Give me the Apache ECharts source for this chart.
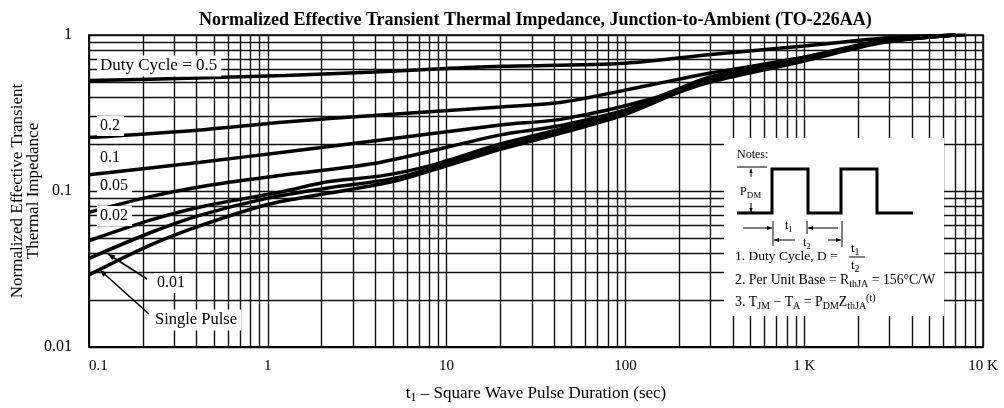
<!DOCTYPE html>
<html>
<head>
<meta charset="utf-8">
<script src="https://cdn.jsdelivr.net/npm/echarts@6/dist/echarts.min.js"></script>
<style>
  html, body { margin: 0; padding: 0; background: #fff; }
  #chart { width: 1004px; height: 408px; }
</style>
</head>
<body>
<div id="chart"></div>
<script>
// t1 (sec) vs normalized Z
const duty05 = [[0.1,0.51],[0.4,0.53],[1.25,0.55],[4,0.58],[10,0.61],[20,0.63],[100,0.66],[300,0.75],[1000,0.85],[3000,0.96],[8000,1.0]];
const duty02 = [[0.1,0.22],[0.42,0.246],[1.25,0.277],[4.3,0.307],[20,0.345],[45,0.372],[140,0.48],[300,0.57],[1000,0.72],[2700,0.9],[7000,1.0]];
const duty01 = [[0.1,0.127],[0.42,0.153],[1.25,0.178],[4.3,0.212],[20,0.265],[45,0.29],[140,0.39],[300,0.54],[1000,0.72],[2700,0.92],[7000,1.0]];
const duty005 = [[0.1,0.073],[0.22,0.092],[0.5,0.11],[1.25,0.127],[4.3,0.153],[20,0.229],[45,0.265],[140,0.37],[300,0.53],[1000,0.71],[2700,0.91],[7000,1.0]];
const duty002 = [[0.1,0.048],[0.22,0.065],[0.42,0.079],[1.2,0.099],[2.2,0.115],[4.3,0.125],[8,0.145],[20,0.2],[50,0.26],[100,0.33],[200,0.45],[300,0.52],[1000,0.7],[2700,0.9],[7000,1.0]];
const duty001 = [[0.1,0.037],[0.22,0.054],[0.42,0.07],[1,0.09],[2.2,0.105],[5,0.12],[10,0.15],[20,0.19],[50,0.25],[100,0.32],[200,0.44],[300,0.51],[1000,0.69],[2700,0.9],[7000,1.0]];
const singlePulse = [[0.1,0.029],[0.22,0.045],[0.42,0.06],[1,0.082],[2.2,0.097],[5,0.115],[10,0.145],[20,0.185],[50,0.245],[100,0.31],[200,0.43],[300,0.5],[1000,0.68],[2700,0.89],[7000,1.0]];

const xTickLabels = { 0.1: '0.1', 1: '1', 10: '10', 100: '100', 1000: '1 K', 10000: '10 K' };
const yTickLabels = { 0.01: '0.01', 0.1: '0.1', 1: '1' };

const serif = '"Liberation Serif", "DejaVu Serif", serif';
const gridLine = { color: '#111', width: 1.4 };

const chart = echarts.init(document.getElementById('chart'));

function curve(name, data) {
  return {
    name: name, type: 'line', data: data, smooth: 0.3, symbol: 'none',
    lineStyle: { color: '#000', width: 3.5 }, z: 2
  };
}

// little helpers for the notes sketch
function seg(x1, y1, x2, y2, w) {
  return { type: 'line', z: 4, shape: { x1: x1, y1: y1, x2: x2, y2: y2 }, style: { stroke: '#000', lineWidth: w || 1 } };
}
function head(x, y, dx, dy, size) {
  // arrow head with tip at (x,y), pointing along (dx,dy)
  const s = size || 5;
  const len = Math.sqrt(dx * dx + dy * dy);
  const ux = dx / len, uy = dy / len;
  const bx = x - ux * s, by = y - uy * s;
  return {
    type: 'polygon', z: 4,
    shape: { points: [[x, y], [bx - uy * s * 0.4, by + ux * s * 0.4], [bx + uy * s * 0.4, by - ux * s * 0.4]] },
    style: { fill: '#000' }
  };
}
function arrow(x1, y1, x2, y2, w, size) {
  return [seg(x1, y1, x2, y2, w), head(x2, y2, x2 - x1, y2 - y1, size)];
}
function txt(x, y, text, size, extra) {
  const fs = size || 13;
  const ss = Math.round(fs * 0.75);
  return {
    type: 'text', z: 5, x: x, y: y,
    style: Object.assign({
      text: text, fill: '#000', font: fs + 'px ' + serif, verticalAlign: 'middle',
      rich: {
        n: { fontSize: fs, fontFamily: serif, lineHeight: fs + 4 },
        sub: { fontSize: ss, fontFamily: serif, verticalAlign: 'bottom', lineHeight: fs + 4, padding: [Math.round(fs * 0.45), 0, 0, 0] },
        sup: { fontSize: ss, fontFamily: serif, verticalAlign: 'top', lineHeight: fs + 4, padding: [0, 0, Math.round(fs * 0.45), 0] }
      }
    }, extra || {})
  };
}
function plotLabel(x, y, text, size) {
  return txt(x, y, text, size || 16, { backgroundColor: '#fff', padding: [2, 4, 2, 3] });
}

const notes = [].concat(
  [{ type: 'rect', z: 1, shape: { x: 724, y: 138, width: 220, height: 178 }, style: { fill: '#fff' } }],
  [txt(737, 155, 'Notes:', 12)],
  [seg(737, 167, 767, 167, 1)],
  arrow(751, 177, 751, 169, 1, 4),
  arrow(751, 203, 751, 212, 1, 4),
  [txt(740, 192, '{n|P}{sub|DM}', 12)],
  [{ type: 'polyline', z: 4,
     shape: { points: [[737,213],[772,213],[772,169],[808,169],[808,213],[841,213],[841,169],[877,169],[877,213],[913,213]] },
     style: { stroke: '#000', lineWidth: 3, fill: null } }],
  [seg(773, 221, 773, 246, 1), seg(807, 221, 807, 234, 1), seg(842, 221, 842, 247, 1)],
  arrow(743, 228, 772, 228, 1, 5),
  [txt(785, 226, '{n|t}{sub|1}', 12)],
  arrow(838, 228, 808, 228, 1, 5),
  arrow(795, 240, 774, 240, 1, 5),
  [txt(803, 243, '{n|t}{sub|2}', 12)],
  arrow(828, 240, 841, 240, 1, 5),
  [txt(735, 256, '1. Duty Cycle, D =', 13.5)],
  [txt(851, 249, '{n|t}{sub|1}', 13), seg(849, 257, 865, 257, 1), txt(851, 266, '{n|t}{sub|2}', 13)],
  [txt(735, 280, '{n|2. Per Unit Base = R}{sub|thJA}{n| = 156°C/W}', 13.8)],
  [txt(735, 302, '{n|3. T}{sub|JM}{n| − T}{sub|A}{n| = P}{sub|DM}{n|Z}{sub|thJA}{sup|(t)}', 13.8)]
);

const annotations = [].concat(
  [plotLabel(97, 66, 'Duty Cycle = 0.5', 17)],
  [plotLabel(97, 126, '0.2'), plotLabel(97, 158, '0.1'), plotLabel(97, 186, '0.05'), plotLabel(97, 216, '0.02')],
  [plotLabel(154, 283, '0.01'), plotLabel(152, 320, 'Single Pulse', 16.5)],
  arrow(147, 279, 108, 254, 1.5, 7),
  arrow(149, 314, 100, 270, 1.5, 7)
);

chart.setOption({
  animation: false,
  backgroundColor: '#fff',
  title: {
    text: 'Normalized Effective Transient Thermal Impedance, Junction-to-Ambient (TO-226AA)',
    left: 194, top: 6,
    textStyle: { fontFamily: serif, fontSize: 18, fontWeight: 'bold', color: '#000' }
  },
  grid: {
    left: 89, right: 21, top: 35, bottom: 61, outerBoundsMode: 'none',
    show: true, borderColor: '#000', borderWidth: 1.5
  },
  xAxis: {
    type: 'log', logBase: 10, min: 0.1, max: 10000,
    name: '{n|t}{s|1}{n| – Square Wave Pulse Duration (sec)}',
    nameLocation: 'middle', nameGap: 37, nameMoveOverlap: false,
    nameTextStyle: {
      color: '#000',
      rich: { n: { fontFamily: serif, fontSize: 17, color: '#000' },
              s: { fontFamily: serif, fontSize: 12, color: '#000', verticalAlign: 'bottom', padding: [8, 0, 0, 0] } }
    },
    axisLine: { lineStyle: { color: '#000', width: 1.5 } },
    axisTick: { show: false },
    axisLabel: {
      fontFamily: serif, fontSize: 15, color: '#000', margin: 12, alignMinLabel: 'left',
      formatter: v => xTickLabels[v] || ''
    },
    splitLine: { show: true, lineStyle: gridLine },
    minorTick: { show: false, splitNumber: 9 },
    minorSplitLine: { show: true, lineStyle: gridLine }
  },
  yAxis: {
    type: 'log', logBase: 10, min: 0.01, max: 1,
    name: 'Normalized Effective Transient\nThermal Impedance',
    nameLocation: 'middle', nameGap: 47, nameMoveOverlap: false,
    nameTextStyle: { fontFamily: serif, fontSize: 17, lineHeight: 16, color: '#000' },
    axisLine: { lineStyle: { color: '#000', width: 1.5 } },
    axisTick: { show: false },
    axisLabel: {
      fontFamily: serif, fontSize: 16, color: '#000', margin: 17,
      formatter: v => yTickLabels[v] || ''
    },
    splitLine: { show: true, lineStyle: gridLine },
    minorTick: { show: false, splitNumber: 9 },
    minorSplitLine: { show: true, lineStyle: gridLine }
  },
  graphic: { elements: notes.concat(annotations) },
  series: [
    curve('0.5', duty05),
    curve('0.2', duty02),
    curve('0.1', duty01),
    curve('0.05', duty005),
    curve('0.02', duty002),
    curve('0.01', duty001),
    curve('Single Pulse', singlePulse)
  ]
});
</script>
</body>
</html>
